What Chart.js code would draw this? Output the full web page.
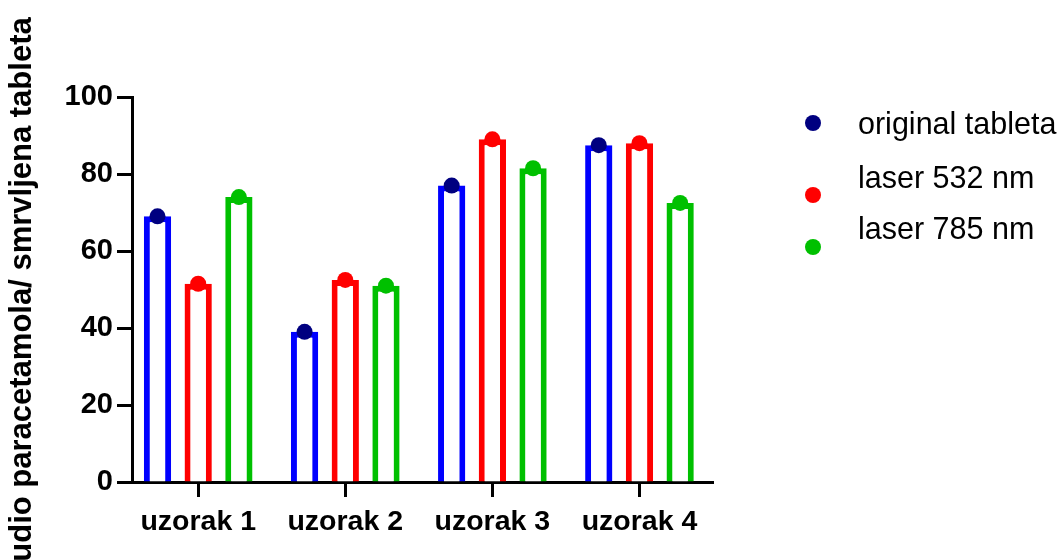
<!DOCTYPE html>
<html>
<head>
<meta charset="utf-8">
<script src="https://cdn.jsdelivr.net/npm/chart.js@4.4.1/dist/chart.umd.min.js"></script>
<style>
  html, body { margin: 0; padding: 0; background: #fff; }
  #wrap { position: relative; width: 1064px; height: 560px; overflow: hidden; }
  #chart { position: absolute; left: 0; top: 0; }
  .leg-dot { position: absolute; width: 16px; height: 16px; border-radius: 50%; }
  .leg-text { position: absolute; font: 30.5px "Liberation Sans", Arial, sans-serif; color: #000; white-space: nowrap; line-height: 30px; }
</style>
</head>
<body>
<div id="wrap">
  <canvas id="chart" width="1064" height="560"></canvas>
</div>
<script>
const categories = ["uzorak 1", "uzorak 2", "uzorak 3", "uzorak 4"];
const seriesNames = ["original tableta", "laser 532 nm", "laser 785 nm"];
const originalValues = [69, 39, 77, 87.5];
const laser532Values = [51.5, 52.5, 89, 88];
const laser785Values = [74, 51, 81.5, 72.5];
const yTicks = [0, 20, 40, 60, 80, 100];
const yTitle = "udio paracetamola/ smrvljena tableta";

const barColors = ["#0000ff", "#ff0000", "#00c000"];
const dotColors = ["#000080", "#ff0000", "#00c000"];
// legend rows: dot centre y and text centre y (the dots sit a bit off their labels)
const legendDotY = [123, 195, 247];
const legendTextY = [123, 177, 228];

const FONT = "'Liberation Sans', Arial, sans-serif";

// dots on top of each bar, placed where the library put the bar
const dotPlugin = {
    id: "dots",
    afterDatasetsDraw(chart) {
        const ctx = chart.ctx;
        chart.data.datasets.forEach((ds, i) => {
            const meta = chart.getDatasetMeta(i);
            meta.data.forEach(bar => {
                ctx.save();
                ctx.beginPath();
                ctx.arc(bar.x, bar.y, 8, 0, Math.PI * 2);
                ctx.fillStyle = dotColors[i];
                ctx.fill();
                ctx.restore();
            });
        });
    }
};

const allValues = [originalValues, laser532Values, laser785Values];

// x is a numeric axis (1..4) so the groups sit where they do in the original,
// slightly off-centre from the axis ends
const chart = new Chart(document.getElementById("chart").getContext("2d"), {
    type: "bar",
    data: {
        datasets: allValues.map((vals, i) => ({
            label: seriesNames[i],
            data: vals.map((v, j) => ({ x: j + 1, y: v })),
            backgroundColor: "#ffffff",
            borderColor: barColors[i],
            borderWidth: 6,
            borderSkipped: "bottom",
            categoryPercentage: 0.83,
            barPercentage: 0.67
        }))
    },
    options: {
        responsive: false,
        animation: false,
        layout: { padding: { top: 97, right: 351, bottom: 0, left: 0 } },
        plugins: {
            legend: { display: false },
            tooltip: { enabled: false }
        },
        scales: {
            x: {
                type: "linear",
                offset: false,
                min: 0.55,
                max: 4.5,
                afterFit: s => { s.height = 78; },
                afterBuildTicks: s => { s.ticks = categories.map((c, j) => ({ value: j + 1 })); },
                grid: {
                    offset: false,
                    drawOnChartArea: false,
                    drawTicks: true,
                    tickLength: 15,
                    tickWidth: 3,
                    tickColor: "#000"
                },
                border: { display: true, width: 3, color: "#000" },
                ticks: {
                    color: "#000",
                    padding: 8,
                    maxRotation: 0,
                    autoSkip: false,
                    callback: v => categories[Math.round(v) - 1] || "",
                    font: { family: FONT, size: 28.5, weight: "bold" }
                }
            },
            y: {
                min: 0,
                max: 100,
                afterFit: s => { s.width = 132; },
                afterBuildTicks: s => { s.ticks = yTicks.map(v => ({ value: v })); },
                grid: {
                    drawOnChartArea: false,
                    drawTicks: true,
                    tickLength: 15,
                    tickWidth: 3,
                    tickColor: "#000"
                },
                border: { display: true, width: 3, color: "#000" },
                ticks: {
                    color: "#000",
                    padding: 4,
                    font: { family: FONT, size: 29, weight: "bold" }
                },
                title: {
                    display: true,
                    text: yTitle,
                    color: "#000",
                    padding: { top: 4, bottom: 0 },
                    font: { family: FONT, size: 31, weight: "bold" }
                }
            }
        }
    },
    plugins: [dotPlugin]
});

// legend built from the series arrays
const wrap = document.getElementById("wrap");
seriesNames.forEach((name, i) => {
    const dot = document.createElement("div");
    dot.className = "leg-dot";
    dot.style.background = dotColors[i];
    dot.style.left = (813 - 8) + "px";
    dot.style.top = (legendDotY[i] - 8) + "px";
    wrap.appendChild(dot);

    const txt = document.createElement("div");
    txt.className = "leg-text";
    txt.textContent = name;
    txt.style.left = "858px";
    txt.style.top = (legendTextY[i] - 15) + "px";
    wrap.appendChild(txt);
});
</script>
</body>
</html>
